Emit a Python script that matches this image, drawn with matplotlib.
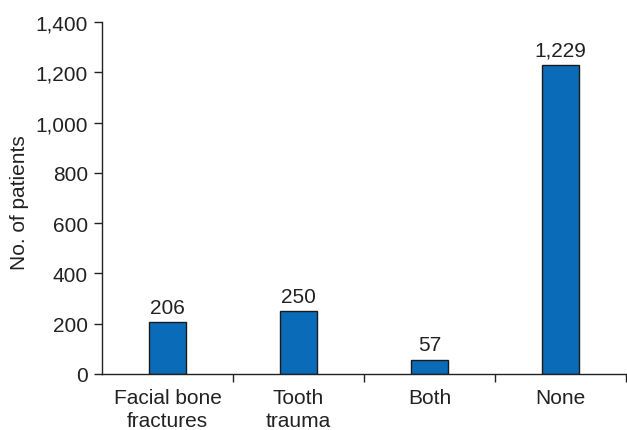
import matplotlib
matplotlib.use("Agg")
import matplotlib.pyplot as plt
from matplotlib.ticker import FuncFormatter, FixedLocator

categories = ["Facial bone\nfractures", "Tooth\ntrauma", "Both", "None"]
values = [206, 250, 57, 1229]
value_labels = ["206", "250", "57", "1,229"]
y_ticks = [0, 200, 400, 600, 800, 1000, 1200, 1400]

plt.rcParams['font.family'] = ['Liberation Sans', 'DejaVu Sans']
fig = plt.figure(figsize=(6.27, 4.31), dpi=100)
ax = fig.add_axes([102/627, 1-375/431, (626-102)/627, (375-23)/431])

x = list(range(len(categories)))
bars = ax.bar(x, values, width=0.29, color="#0a6cb8", edgecolor="#1a1a1a", linewidth=1.0, zorder=2)
for xi, v, lab in zip(x, values, value_labels):
    ax.text(xi, v + 22, lab, ha="center", va="bottom", fontsize=15, color="#222222")

ax.set_xlim(-0.5, 3.5)
ax.set_ylim(0, 1400)
ax.set_yticks(y_ticks)
ax.yaxis.set_major_formatter(FuncFormatter(lambda v, p: f"{int(v):,}"))
ax.set_xticks(x)
ax.set_xticklabels(categories, fontsize=15, color="#222222", linespacing=1.25)
ax.tick_params(axis='x', which='major', length=0, pad=10)
ax.xaxis.set_minor_locator(FixedLocator([0.5, 1.5, 2.5, 3.5]))
ax.tick_params(axis='x', which='minor', length=6, width=1, direction='out', color="#222222")
ax.tick_params(axis='y', labelsize=15, length=6, width=1, direction='out', color="#222222", labelcolor="#222222", pad=4)
for s in ['top', 'right']:
    ax.spines[s].set_visible(False)
for s in ['left', 'bottom']:
    ax.spines[s].set_color("#222222")
    ax.spines[s].set_linewidth(1.0)
ax.set_ylabel("No. of patients", fontsize=15, color="#222222", va="center")
ax.yaxis.set_label_coords(-0.158, 0.49)

fig.savefig("out.png", dpi=100)
